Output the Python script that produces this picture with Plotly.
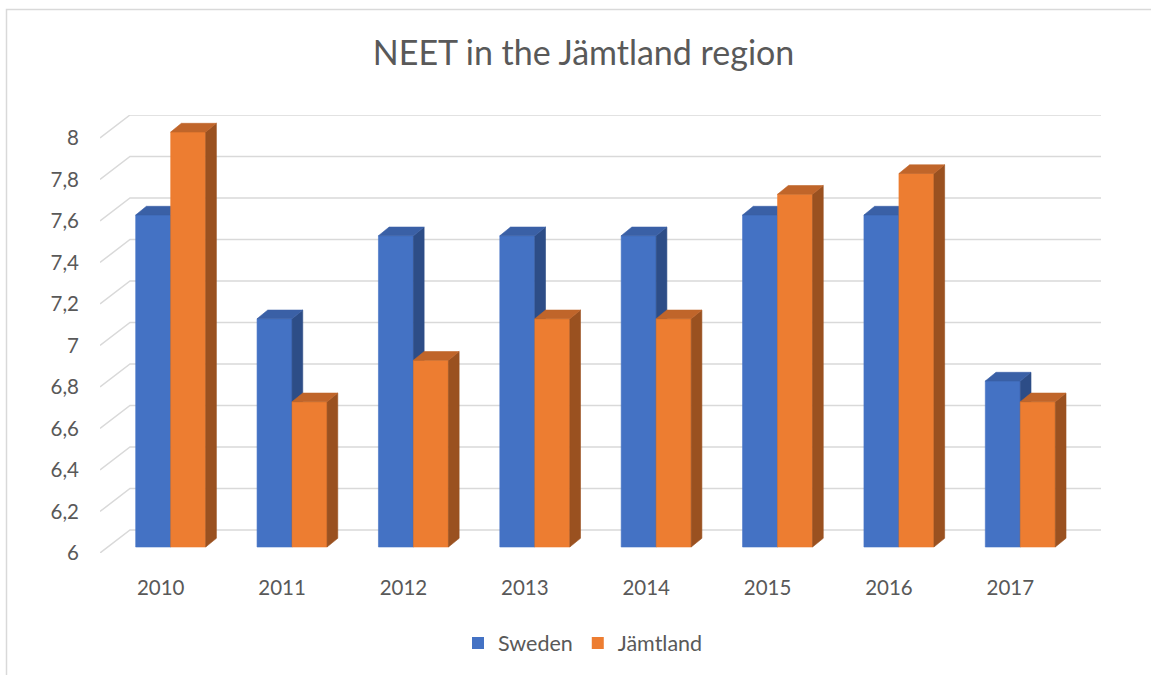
import plotly.graph_objects as go

# data
years = ["2010", "2011", "2012", "2013", "2014", "2015", "2016", "2017"]
sweden = [7.6, 7.1, 7.5, 7.5, 7.5, 7.6, 7.6, 6.8]
jamtland = [8.0, 6.7, 6.9, 7.1, 7.1, 7.7, 7.8, 6.7]
y_ticks = [6, 6.2, 6.4, 6.6, 6.8, 7, 7.2, 7.4, 7.6, 7.8, 8]
y_tick_labels = ["6", "6,2", "6,4", "6,6", "6,8", "7", "7,2", "7,4", "7,6", "7,8", "8"]

Y_MIN = 6
FONT = "Lato"
TEXT = "#595959"
GRID = "#D9D9D9"

series = [
    ("Sweden", sweden, dict(front="#4472C4", top="#3A60A6", side="#2D4D87")),
    ("Jämtland", jamtland, dict(front="#ED7D31", top="#C0652A", side="#9A5120")),
]

# pseudo-3D geometry (in axis units): px per category / per value unit
PX_CAT = 121.375
PX_VAL = 207.5
WALL_DX = 30 / PX_CAT
WALL_DY = 23 / PX_VAL
FRONT_DX = 10 / PX_CAT
FRONT_DY = 6 / PX_VAL
BAR_W = 35 / PX_CAT
DEPTH_DX = 10.7 / PX_CAT
DEPTH_DY = 8.7 / PX_VAL

X_MIN = -0.5
X_MAX = len(years) - 0.5 + WALL_DX
Y_MAX = y_ticks[-1] + WALL_DY

fig = go.Figure()

# back wall gridlines with slanted left edge
gx, gy = [], []
for v in y_ticks:
    gx += [X_MIN, X_MIN + WALL_DX, X_MAX, None]
    gy += [v, v + WALL_DY, v + WALL_DY, None]
fig.add_trace(
    go.Scatter(
        x=gx, y=gy, mode="lines", line=dict(color=GRID, width=1.5),
        showlegend=False, hoverinfo="skip",
    )
)


def face(xs, ys, colour):
    return go.Scatter(
        x=xs + [xs[0]], y=ys + [ys[0]], mode="lines", fill="toself",
        fillcolor=colour, line=dict(color=colour, width=0.6),
        showlegend=False, hoverinfo="skip",
    )


for c in range(len(years)):
    for s, (name, values, cols) in enumerate(series):
        x0 = c + FRONT_DX - BAR_W + s * BAR_W
        x1 = x0 + BAR_W
        y0 = Y_MIN + FRONT_DY
        y1 = values[c] + FRONT_DY
        fig.add_trace(face([x0, x1, x1, x0], [y0, y0, y1, y1], cols["front"]))
        fig.add_trace(
            face(
                [x1, x1 + DEPTH_DX, x1 + DEPTH_DX, x1],
                [y0, y0 + DEPTH_DY, y1 + DEPTH_DY, y1],
                cols["side"],
            )
        )
        fig.add_trace(
            face(
                [x0, x1, x1 + DEPTH_DX, x0 + DEPTH_DX],
                [y1, y1, y1 + DEPTH_DY, y1 + DEPTH_DY],
                cols["top"],
            )
        )

# legend entries
for name, values, cols in series:
    fig.add_trace(
        go.Bar(x=[None], y=[None], name=name, marker=dict(color=cols["front"], line=dict(width=0)))
    )

fig.update_layout(
    width=1151,
    height=675,
    margin=dict(l=100, r=50, t=115, b=122),
    paper_bgcolor="white",
    plot_bgcolor="white",
    font=dict(family=FONT, color=TEXT, size=20.5),
    title=dict(
        text="NEET in the Jämtland region",
        font=dict(family=FONT, color=TEXT, size=34),
        xref="container", x=0.507, xanchor="center",
        yref="container", y=1 - 53 / 675, yanchor="middle",
    ),
    showlegend=True,
    legend=dict(
        orientation="h",
        x=(458 - 100) / 1001, xanchor="left",
        y=(553 - 643) / 438, yanchor="middle",
        font=dict(family=FONT, color=TEXT, size=21.5),
        bgcolor="rgba(0,0,0,0)",
    ),
    shapes=[
        dict(
            type="rect", xref="paper", yref="paper", layer="below",
            x0=(6.5 - 100) / 1001, x1=(1170 - 100) / 1001,
            y0=(553 - 700) / 438, y1=(553 - 9.5) / 438,
            line=dict(color=GRID, width=1.5), fillcolor="rgba(0,0,0,0)",
        )
    ],
)

fig.update_xaxes(
    range=[X_MIN, X_MAX], tickvals=list(range(len(years))), ticktext=years,
    showgrid=False, zeroline=False, showline=False, ticks="",
    ticklabelstandoff=20, fixedrange=True,
)
fig.update_yaxes(
    range=[Y_MIN, Y_MAX], tickvals=y_ticks, ticktext=y_tick_labels,
    showgrid=False, zeroline=False, showline=False, ticks="",
    ticklabelstandoff=20, fixedrange=True,
)

fig.write_html(
    "out.html",
    config={"displayModeBar": False},
    post_script="document.body.style.margin='0';",
)
